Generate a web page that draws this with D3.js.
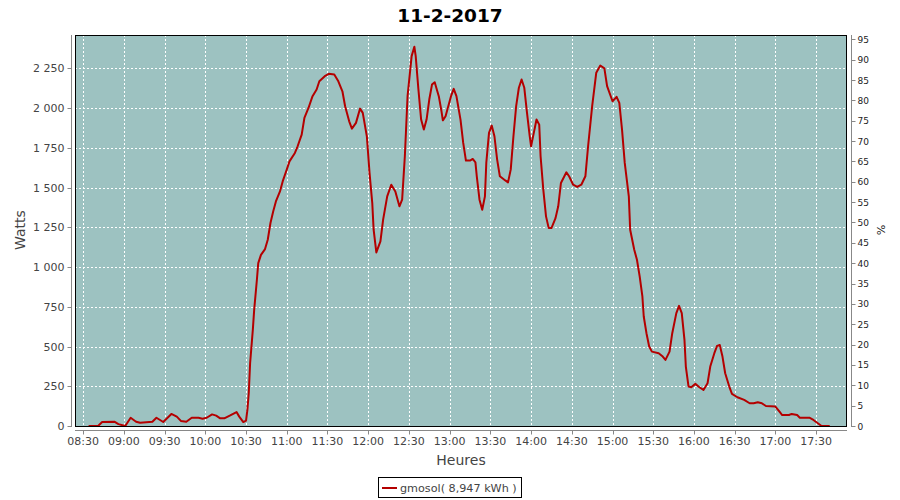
<!DOCTYPE html>
<html><head><meta charset="utf-8">
<script src="https://cdn.jsdelivr.net/npm/d3@7"></script>
<style>body{margin:0;background:#fff}svg{display:block;font-family:"DejaVu Sans",sans-serif}</style>
</head><body><div id="chart"></div>
<script>
const times = ["08:34","08:41","08:44","08:53","08:56","09:01","09:05","09:09","09:12","09:21","09:24","09:29","09:35","09:39","09:42","09:46","09:50","09:55","09:58","10:01","10:05","10:08","10:11","10:14","10:18","10:23","10:25","10:28","10:30","10:31","10:32","10:33","10:35","10:36","10:38","10:39","10:41","10:44","10:46","10:48","10:50","10:52","10:55","10:57","11:00","11:02","11:06","11:08","11:11","11:13","11:16","11:19","11:22","11:24","11:28","11:31","11:35","11:38","11:41","11:43","11:46","11:48","11:51","11:54","11:56","11:59","12:01","12:03","12:04","12:06","12:09","12:11","12:14","12:17","12:20","12:23","12:25","12:27","12:29","12:32","12:34","12:35","12:37","12:39","12:41","12:43","12:45","12:47","12:49","12:52","12:54","12:55","12:57","13:01","13:03","13:05","13:08","13:10","13:12","13:15","13:17","13:19","13:20","13:22","13:24","13:26","13:27","13:29","13:31","13:33","13:35","13:37","13:41","13:43","13:45","13:47","13:49","13:51","13:53","13:55","13:57","13:59","14:00","14:02","14:04","14:06","14:07","14:09","14:11","14:13","14:15","14:18","14:20","14:22","14:26","14:28","14:31","14:34","14:37","14:40","14:42","14:45","14:48","14:51","14:54","14:56","15:00","15:03","15:05","15:07","15:09","15:12","15:13","15:16","15:18","15:20","15:22","15:23","15:25","15:27","15:29","15:34","15:37","15:39","15:42","15:44","15:47","15:49","15:51","15:53","15:54","15:56","15:58","16:01","16:04","16:07","16:10","16:12","16:15","16:17","16:19","16:21","16:23","16:26","16:28","16:32","16:37","16:41","16:44","16:47","16:50","16:53","17:00","17:03","17:05","17:10","17:12","17:16","17:18","17:25","17:28","17:32","17:34","17:40"];
const watts = [0,0,25,27,12,0,52,27,20,27,52,25,76,59,32,27,52,52,46,52,73,65,48,48,65,88,59,25,34,101,206,395,605,731,920,1025,1077,1113,1172,1277,1350,1413,1476,1539,1613,1665,1718,1760,1833,1938,2001,2075,2117,2169,2201,2216,2211,2169,2106,2012,1917,1871,1907,1997,1970,1823,1592,1403,1235,1092,1161,1298,1445,1518,1476,1382,1424,1697,2075,2327,2386,2327,2117,1928,1865,1928,2054,2148,2163,2075,1980,1923,1949,2075,2121,2075,1928,1781,1670,1670,1680,1659,1571,1424,1361,1445,1655,1844,1890,1823,1676,1571,1545,1533,1613,1823,2012,2128,2180,2128,1970,1823,1760,1844,1928,1896,1697,1487,1319,1245,1245,1308,1382,1529,1596,1571,1518,1504,1518,1571,1760,2012,2222,2268,2250,2138,2043,2071,2033,1865,1655,1445,1235,1109,1046,941,815,689,584,500,468,458,437,416,468,584,710,756,710,542,374,248,244,265,244,227,269,374,458,504,510,437,332,248,202,181,164,143,143,149,143,126,122,90,69,69,76,69,52,52,38,13,0,0];
const yTicksLeft = [0,250,500,750,1000,1250,1500,1750,2000,2250];
const yTicksRight = [0,5,10,15,20,25,30,35,40,45,50,55,60,65,70,75,80,85,90,95];
const xStart = "08:24", xEnd = "17:52";
const title = "11-2-2017";
const seriesName = "gmosol( 8,947 kWh )";

const W = 900, H = 500;
const L = 75, R = 846, T = 35, B = 426;
const parse = d3.timeParse("%H:%M");
const data = times.map((t, i) => ({t: parse(t), v: watts[i]}));

const svg = d3.select("#chart").append("svg").attr("width", W).attr("height", H);
const x = d3.scaleTime().domain([parse(xStart), parse(xEnd)]).range([L, R]);
const y = d3.scaleLinear().domain([0, 2460]).range([B, T]);
const y2 = d3.scaleLinear().domain([0, 96.06]).range([B, T]);

svg.append("rect").attr("x", L).attr("y", T).attr("width", R - L).attr("height", B - T).attr("fill", "#9dc2c1");

const xTicks = d3.timeMinute.every(30).range(parse("08:30"), parse("17:31"));
const fmt = d3.timeFormat("%H:%M");
const px = v => Math.round(v) + 0.5;

// grid
svg.append("g").selectAll("line").data(xTicks).join("line")
  .attr("x1", d => px(x(d))).attr("x2", d => px(x(d))).attr("y1", T).attr("y2", B)
  .attr("stroke", "#fff").attr("stroke-dasharray", "2,2");
svg.append("g").selectAll("line").data(yTicksLeft.slice(1)).join("line")
  .attr("y1", d => px(y(d))).attr("y2", d => px(y(d))).attr("x1", L).attr("x2", R)
  .attr("stroke", "#fff").attr("stroke-dasharray", "2,2");

// line
const line = d3.line().x(d => x(d.t)).y(d => y(d.v));
svg.append("path").datum(data).attr("d", line).attr("fill", "none")
  .attr("stroke", "#b40000").attr("stroke-width", 2).attr("stroke-linejoin", "round");

// border
svg.append("rect").attr("x", L + 0.5).attr("y", T + 0.5).attr("width", R - L).attr("height", B - T)
  .attr("fill", "none").attr("stroke", "#000");

const gray = "#888", txt = "#444";
// left axis
const gl = svg.append("g").attr("transform", "translate(71.5,0)");
gl.append("line").attr("x1", 0).attr("x2", 0).attr("y1", T).attr("y2", B + 1).attr("stroke", gray);
gl.selectAll("line.t").data(yTicksLeft).join("line").attr("class", "t")
  .attr("x1", -4).attr("x2", 0).attr("y1", d => px(y(d))).attr("y2", d => px(y(d))).attr("stroke", gray);
gl.selectAll("text").data(yTicksLeft).join("text")
  .attr("x", -7).attr("y", d => y(d) + 4).attr("text-anchor", "end")
  .attr("font-size", 11).attr("fill", txt)
  .text(d => d3.format(",")(d).replace(/,/g, "\u00a0"));

// right axis
const gr = svg.append("g").attr("transform", "translate(851.5,0)");
gr.append("line").attr("x1", 0).attr("x2", 0).attr("y1", T).attr("y2", B + 1).attr("stroke", gray);
gr.selectAll("line.t").data(yTicksRight).join("line").attr("class", "t")
  .attr("x1", 0).attr("x2", 4).attr("y1", d => px(y2(d))).attr("y2", d => px(y2(d))).attr("stroke", gray);
gr.selectAll("text").data(yTicksRight).join("text")
  .attr("x", 6).attr("y", d => y2(d) + 3.5).attr("text-anchor", "start")
  .attr("font-size", 9).attr("fill", "#222").text(d => d);

// bottom axis
const gb = svg.append("g").attr("transform", "translate(0,430.5)");
gb.append("line").attr("x1", L).attr("x2", R + 1).attr("stroke", gray);
gb.selectAll("line.t").data(xTicks).join("line").attr("class", "t")
  .attr("x1", d => px(x(d))).attr("x2", d => px(x(d))).attr("y1", 0).attr("y2", 4).attr("stroke", gray);
gb.selectAll("text").data(xTicks).join("text")
  .attr("x", d => x(d)).attr("y", 14).attr("text-anchor", "middle")
  .attr("font-size", 11).attr("fill", txt).text(d => fmt(d));

// titles
svg.append("text").attr("x", 450).attr("y", 22).attr("text-anchor", "middle")
  .attr("font-size", 18.5).attr("font-weight", "bold").attr("fill", "#000").text(title);
svg.append("text").attr("x", 461).attr("y", 465).attr("text-anchor", "middle")
  .attr("font-size", 14).attr("fill", txt).text("Heures");
svg.append("text").attr("transform", "translate(25,230) rotate(-90)").attr("text-anchor", "middle")
  .attr("font-size", 14).attr("fill", txt).text("Watts");
svg.append("text").attr("transform", "translate(877,230) rotate(90)").attr("text-anchor", "middle")
  .attr("font-size", 11).attr("fill", "#222").text("%");

// legend
const lg = svg.append("g");
lg.append("rect").attr("x", 378.5).attr("y", 477.5).attr("width", 143).attr("height", 20)
  .attr("fill", "#fff").attr("stroke", "#000");
lg.append("line").attr("x1", 382).attr("x2", 397).attr("y1", 488).attr("y2", 488)
  .attr("stroke", "#b40000").attr("stroke-width", 2);
lg.append("text").attr("x", 400).attr("y", 492).attr("font-size", 11.2).attr("fill", txt).text(seriesName);
</script></body></html>
